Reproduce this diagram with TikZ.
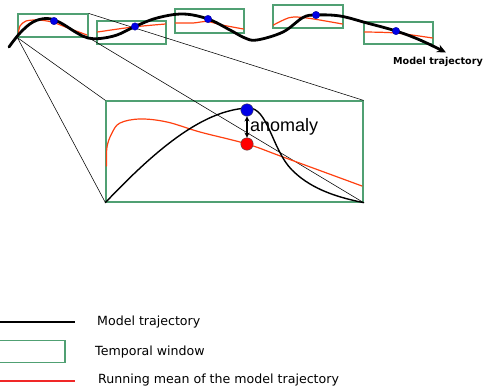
\documentclass[tikz,border=0pt]{standalone}
\usepackage{fontspec}
\setmainfont{DejaVu Sans}
\newfontfamily\labelfont{Liberation Sans}
\usetikzlibrary{arrows.meta}
\definecolor{wingreen}{RGB}{80,160,115}
\definecolor{meanred}{RGB}{255,64,16}
\definecolor{legred}{RGB}{240,40,40}
\definecolor{dotblue}{RGB}{0,0,230}
\tikzset{
  win/.style={draw=wingreen, line width=1.2pt, inner sep=0pt, minimum width=#1},
  win/.default=69pt,
  traj/.style={line width=2.8pt, line cap=round, line join=round},
  thintraj/.style={line width=1.4pt, line cap=round, line join=round},
  runmean/.style={draw=meanred, line width=1.2pt, line cap=round},
  zoomline/.style={line width=0.55pt},
  sdot/.style={circle, fill=dotblue, draw=dotblue!60!black, line width=0.3pt, inner sep=0pt, minimum size=7.5pt},
  bdot/.style={circle, draw=black!70, line width=0.4pt, inner sep=0pt, minimum size=12.5pt},
  legtext/.style={anchor=west, font=\fontsize{12.6}{15}\selectfont, inner sep=0pt},
}
\begin{document}
\begin{tikzpicture}[x=1pt, y=-1pt]
\useasboundingbox (0,0) rectangle (485,389);

% temporal windows along the trajectory
\node[win=70pt, minimum height=23pt] (w1) at (53,25.5) {};
\node[win, minimum height=23pt] (w2) at (131.5,32.5) {};
\node[win, minimum height=24pt] (w3) at (209.5,21) {};
\node[win=70pt, minimum height=23pt] (w4) at (308,16.5) {};
\node[win, minimum height=22pt] (w5) at (398.5,33) {};

% enlarged window
\node[win=257pt, minimum height=101pt] (big) at (234.5,151.5) {};

% projection lines from the first window to the enlarged one
\draw[zoomline] (w1.south west) -- (big.south west);
\draw[zoomline] (w1.south west) -- (big.north west);
\draw[zoomline] (w1.north east) -- (big.north east);
\draw[zoomline] (w1.south east) -- (big.south east);

% running means inside each window
\draw[runmean] plot[smooth] coordinates {(18.5,33) (20,26) (26,21) (38,20) (52,22) (68,28) (87,35)};
\draw[runmean] plot[smooth] coordinates {(97.5,32) (133,27) (165.5,24)};
\draw[runmean] plot[smooth] coordinates {(175.5,23) (193,23) (207,21.5) (222,25) (243.5,29)};
\draw[runmean] plot[smooth] coordinates {(273.5,25) (290,17.5) (307,18) (342.5,24)};
\draw[runmean] plot[smooth] coordinates {(364.5,32) (396,33) (432.5,38)};

% model trajectory
\draw[traj, -{Stealth[length=9pt, width=8pt]}] plot[smooth, tension=0.6] coordinates {
  (9,47) (20,33) (33,22) (47,18.5) (60,22.5) (77,33) (88,38) (100,38.5) (117,35)
  (135,26.5) (157,18) (183,14) (208,19) (230,30) (245,38) (257,40) (283,32)
  (303,17.5) (316,15) (340,16) (367,23) (396,31) (420,40) (446,52.5)};
\node[font=\bfseries\fontsize{9.6}{11}\selectfont, inner sep=0pt] (mtlabel) at (438,62) {Model trajectory};

% observation points
\node[sdot] (p1) at (54,21) {};
\node[sdot] (p2) at (135,26.5) {};
\node[sdot] (p3) at (208,19) {};
\node[sdot] (p4) at (316,15) {};
\node[sdot] (p5) at (396,31) {};

% content of the enlarged window
\draw[runmean] plot[smooth, tension=0.6] coordinates {(106.5,166) (107,147) (112,133) (120,123) (140,119) (167,122) (200,132) (247,144) (283,157) (362,186)};
\draw[thintraj] (big.south west) .. controls (160,145) and (205,110) .. (248,108)
  .. controls (268,107) and (272,150) .. (292,170)
  .. controls (308,186) and (330,196) .. (big.south east);

\node[bdot, fill=dotblue] (obs) at (247,110) {};
\node[bdot, fill=red] (mean) at (247,144) {};
\draw[line width=1.4pt, {Stealth[length=5pt,width=5pt]}-{Stealth[length=5pt,width=5pt]}] (obs.south) -- (mean.north);
\node[anchor=west, font=\labelfont\fontsize{18}{21}\selectfont, inner sep=0pt] (anom) at (250,127) {anomaly};

% legend
\draw[line width=1.4pt] (0,322) -- (75,322);
\node[legtext] (lg1) at (97,322) {Model trajectory};
\node[win=66pt, minimum height=22pt] (lgwin) at (32,351.5) {};
\node[legtext] (lg2) at (95,352) {Temporal window};
\draw[draw=legred, line width=1.4pt] (0,381) -- (75,381);
\node[legtext] (lg3) at (98,380) {Running mean of the model trajectory};
\end{tikzpicture}
\end{document}
